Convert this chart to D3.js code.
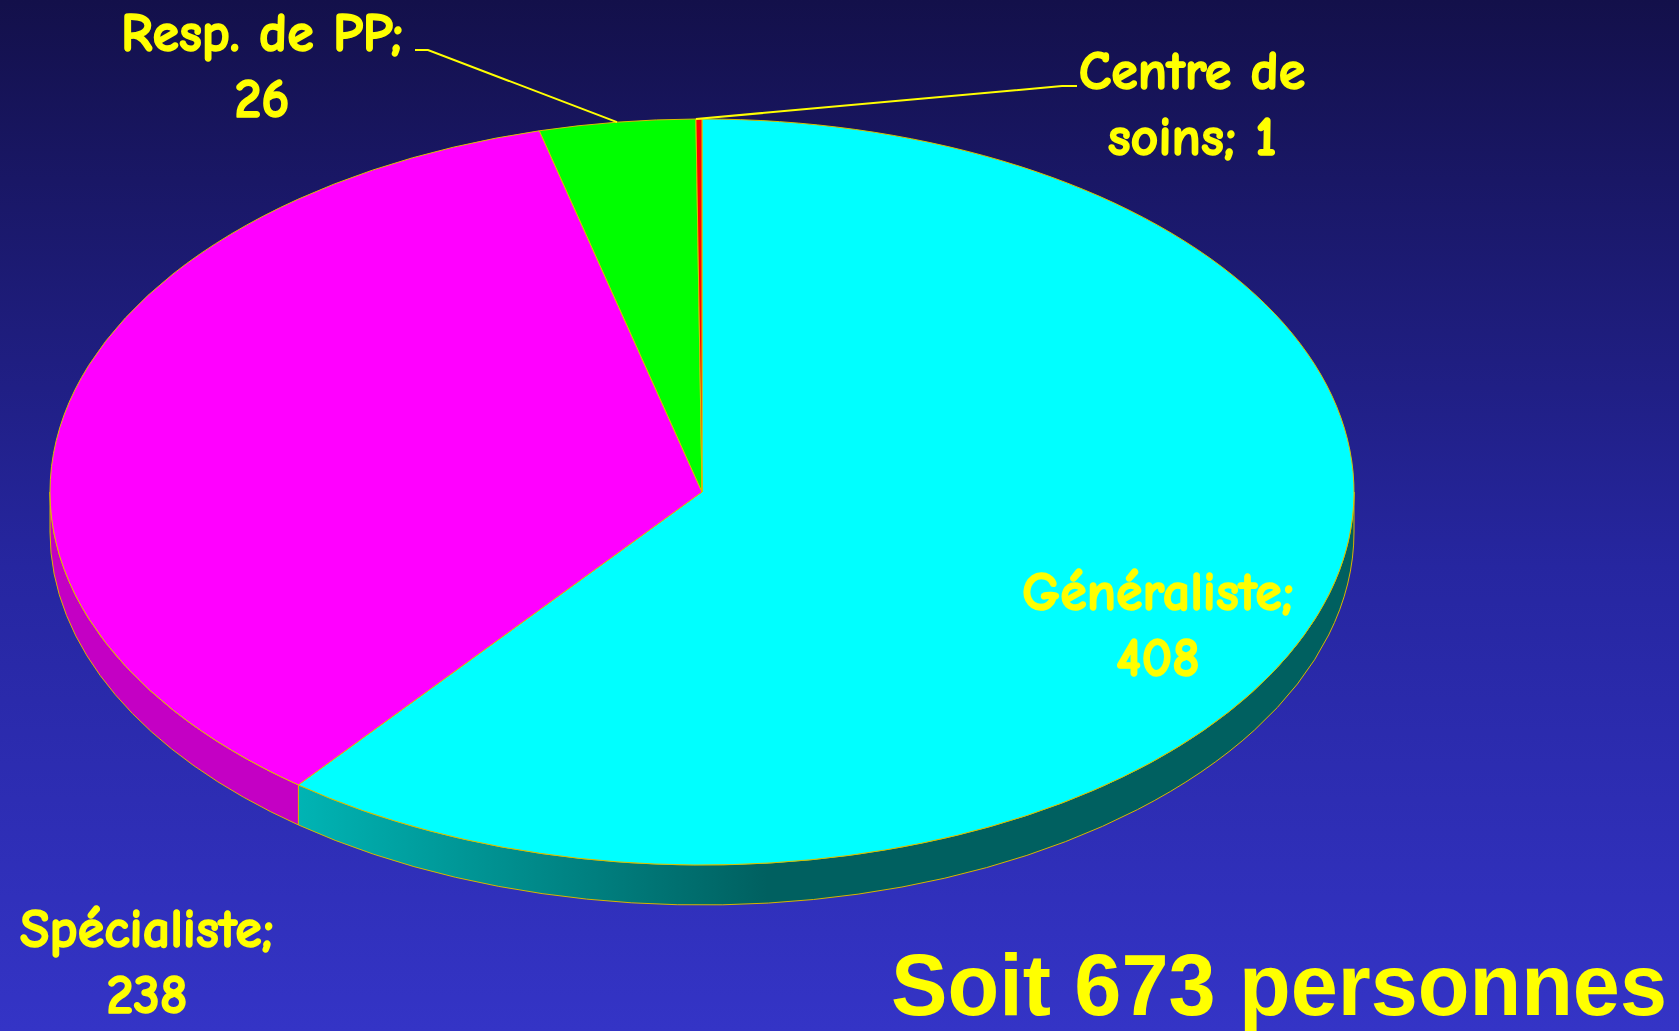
<!DOCTYPE html>
<html>
<head>
<meta charset="utf-8">
<script src="https://cdn.jsdelivr.net/npm/d3@7"></script>
<style>
  html, body { margin: 0; padding: 0; overflow: hidden; }
  svg { display: block; }
</style>
</head>
<body>
<div id="chart-area"></div>
<script>
// data
const categories = ["Généraliste", "Spécialiste", "Resp. de PP", "Centre de soins"]
const values = [408, 238, 26, 1]
const topColors = ["#00ffff", "#ff00ff", "#00ff00", "#ff0000"]
const sideColorsLight = ["#00b4b4", "#c400c4", "#00b400", "#b40000"]
const sideColorsDark = ["#006060", "#b000b0", "#006000", "#600000"]

// label text lines per slice (as on the slide)
const labelLines = [
  ["Généraliste;", "408"],
  ["Spécialiste;", "238"],
  ["Resp. de PP;", "26"],
  ["Centre de", "soins; 1"]
]

const W = 1679, H = 1031
const cx = 702, cy = 492, rx = 652, ry = 373, depth = 40

// where the labels sit on the slide
const labelPos = [
  { x: 1158, y: 610 },
  { x: 147, y: 947 },
  { x: 262, y: 51 },
  { x: 1192, y: 89 }
]
const lineGap = 66

let svg = d3.select("#chart-area").append("svg")
  .attr("width", W)
  .attr("height", H)

let defs = svg.append("defs")

let bg = defs.append("linearGradient")
  .attr("id", "bg")
  .attr("x1", 0).attr("y1", 0).attr("x2", 0).attr("y2", 1)
bg.append("stop").attr("offset", "0%").attr("stop-color", "#13104a")
bg.append("stop").attr("offset", "55%").attr("stop-color", "#2626a0")
bg.append("stop").attr("offset", "100%").attr("stop-color", "#3434c6")

svg.append("rect")
  .attr("width", W)
  .attr("height", H)
  .attr("fill", "url(#bg)")

// side gradients, left to right across the pie
categories.forEach((c, i) => {
  let g = defs.append("linearGradient")
    .attr("id", "side" + i)
    .attr("gradientUnits", "userSpaceOnUse")
    .attr("x1", cx - rx * 0.62).attr("y1", 0)
    .attr("x2", cx + rx * 0.1).attr("y2", 0)
  g.append("stop").attr("offset", "0%").attr("stop-color", sideColorsLight[i])
  g.append("stop").attr("offset", "100%").attr("stop-color", sideColorsDark[i])
})

let pie = d3.pie().sort(null).startAngle(0).endAngle(2 * Math.PI)
let arcs = pie(values)

const topPt = a => [cx + rx * Math.sin(a), cy - ry * Math.cos(a)]

// visible front wall of each slice
let sides = svg.append("g")
arcs.forEach((d, i) => {
  let a0 = Math.max(d.startAngle, Math.PI / 2)
  let a1 = Math.min(d.endAngle, 3 * Math.PI / 2)
  if (a1 <= a0) return
  let p0 = topPt(a0), p1 = topPt(a1)
  let path = `M${p0[0]},${p0[1]}` +
    `A${rx},${ry} 0 0 1 ${p1[0]},${p1[1]}` +
    `L${p1[0]},${p1[1] + depth}` +
    `A${rx},${ry} 0 0 0 ${p0[0]},${p0[1] + depth}Z`
  sides.append("path")
    .attr("d", path)
    .attr("fill", `url(#side${i})`)
    .attr("stroke", "#d8b400")
    .attr("stroke-width", 1)
})

// top face
let arc = d3.arc().innerRadius(0).outerRadius(rx)
svg.append("g")
  .attr("transform", `translate(${cx},${cy}) scale(1,${ry / rx})`)
  .selectAll("path")
  .data(arcs)
  .enter()
  .append("path")
    .attr("d", arc)
    .attr("fill", (d, i) => topColors[i])
    .attr("stroke", "#d8c000")
    .attr("stroke-width", 1)
    .attr("vector-effect", "non-scaling-stroke")

// leader lines for the two small slices
const leaders = [
  { i: 2, from: [428, 50], stub: [415, 50] },
  { i: 3, from: [1062, 86], stub: [1077, 86] }
]
leaders.forEach(l => {
  let d = arcs[l.i]
  let mid = l.i === 3 ? d.startAngle : (d.startAngle + d.endAngle) / 2
  let p = topPt(mid)
  svg.append("polyline")
    .attr("points", [p, l.from, l.stub].map(q => q.join(",")).join(" "))
    .attr("fill", "none")
    .attr("stroke", "#ffff00")
    .attr("stroke-width", 2)
})

// slice labels
labelLines.forEach((lines, i) => {
  let t = svg.append("text")
    .attr("text-anchor", "middle")
    .attr("font-family", "'Comic Sans MS', 'Comic Neue', Lato, sans-serif")
    .attr("font-weight", "bold")
    .attr("font-size", 54)
    .attr("fill", "#ffff00")
    .attr("stroke", "#ffff00")
    .attr("stroke-width", 1.5)
    .attr("stroke-linejoin", "round")
  lines.forEach((s, k) => {
    t.append("tspan")
      .attr("x", labelPos[i].x)
      .attr("y", labelPos[i].y + k * lineGap)
      .text(s)
  })
})

svg.append("text")
  .attr("x", 1667)
  .attr("y", 1015)
  .attr("text-anchor", "end")
  .attr("font-family", "Arial, 'Liberation Sans', sans-serif")
  .attr("font-weight", "bold")
  .attr("font-size", 88)
  .attr("fill", "#ffff00")
  .attr("textLength", 776)
  .attr("lengthAdjust", "spacingAndGlyphs")
  .text(`Soit ${d3.sum(values)} personnes`)
</script>
</body>
</html>
